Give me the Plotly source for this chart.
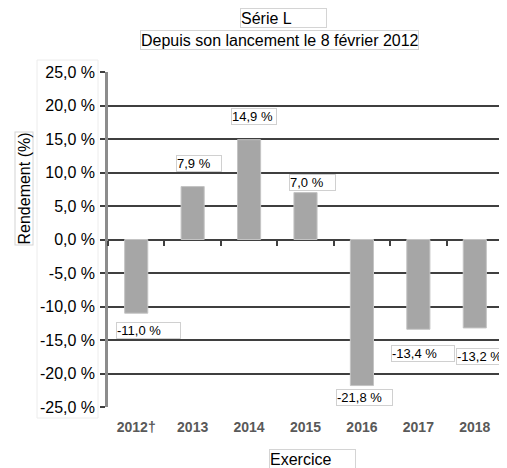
import plotly.graph_objects as go

categories = ["2012†", "2013", "2014", "2015", "2016", "2017", "2018"]
returns = [-11.0, 7.9, 14.9, 7.0, -21.8, -13.4, -13.2]
label_texts = ["-11,0 %", "7,9 %", "14,9 %", "7,0 %", "-21,8 %", "-13,4 %", "-13,2 %"]
ytick_vals = [25, 20, 15, 10, 5, 0, -5, -10, -15, -20, -25]
ytick_texts = ["25,0 %", "20,0 %", "15,0 %", "10,0 %", "5,0 %", "0,0 %",
               "-5,0 %", "-10,0 %", "-15,0 %", "-20,0 %", "-25,0 %"]

# label box styling (pixel offsets from bar end, box widths)
label_xshift = [12, 6, 5, 7, 3, 5, 6]
label_yshift = [-17, 23, 23, 10, -12, -24, -29]
label_width = [63, 44, 44, 45, 55, 62, 47]

FONT = "Liberation Sans, Arial, sans-serif"

# the page body adds an 8px offset; work in page pixels and convert
OFF = 8
W, H = 507 - OFF, 468 - OFF
plot_l, plot_r, plot_t, plot_b = 108, 503, 72, 407   # page pixels
ml, mr = plot_l - OFF, W - (plot_r - OFF)
mt, mb = plot_t - OFF, H - (plot_b - OFF)
pw, ph = plot_r - plot_l, plot_b - plot_t

def px2paper(xp, yp):
    return (xp - plot_l) / pw, 1 - (yp - plot_t) / ph

fig = go.Figure()
fig.add_trace(go.Bar(
    x=categories, y=returns, width=0.41,
    marker=dict(color="#a6a6a6", line=dict(color="#c4c4c4", width=1)),
    showlegend=False, hoverinfo="skip",
))
# helper trace for the boundary ticks on the zero line
fig.add_trace(go.Scatter(x=[-0.5, 6.5], y=[0, 0], xaxis="x2", mode="lines",
                         line=dict(color="rgba(0,0,0,0)"), showlegend=False,
                         hoverinfo="skip"))

annotations = []
for i, (v, t, xs, ys, w) in enumerate(zip(returns, label_texts,
                                          label_xshift, label_yshift, label_width)):
    annotations.append(dict(
        x=i, y=v, xref="x", yref="y", text=t, showarrow=False,
        xshift=xs, yshift=ys, width=w, height=15, align="left",
        font=dict(family=FONT, size=13, color="#000"),
        bordercolor="#d0d0d0", borderwidth=1, borderpad=0, bgcolor="white",
    ))

for text, cx, cy, w, angle in [
    ("Série L", 283.5, 17.5, 85, 0),
    ("Depuis son lancement le 8 février 2012", 279.5, 40.5, 277, 0),
    ("Exercice", 312.5, 459.5, 85, 0),
    ("Rendement (%)", 23.5, 189, None, -90),
]:
    px, py = px2paper(cx, cy)
    a = dict(text=text, xref="paper", yref="paper", x=px, y=py,
             xanchor="center", yanchor="middle", showarrow=False,
             textangle=angle, align="left" if not angle else "center",
             font=dict(family=FONT, size=16, color="#000"),
             bordercolor="#d4d4d4", borderwidth=1, borderpad=0,
             bgcolor="white")
    if w:
        a.update(width=w, height=18)
    annotations.append(a)

fig.update_layout(annotations=annotations)

# faint frame around y tick labels
fx0, fy0 = px2paper(37, 418)
fx1, fy1 = px2paper(98, 60)
fig.add_shape(type="rect", xref="paper", yref="paper",
              x0=fx0, x1=fx1, y0=fy0, y1=fy1,
              line=dict(color="#ececec", width=1), layer="below")

fig.update_layout(
    width=W, height=H,
    margin=dict(l=ml, r=mr, t=mt, b=mb, autoexpand=False),
    paper_bgcolor="white", plot_bgcolor="white",
    font=dict(family=FONT, size=16, color="#000"),
    xaxis=dict(
        type="category", range=[-0.5, 6.5], showgrid=False, showline=False,
        zeroline=False, ticks="outside", ticklen=7, tickcolor="rgba(0,0,0,0)",
        tickfont=dict(family=FONT, size=14, color="#595959", weight="bold"),
    ),
    xaxis2=dict(
        overlaying="x", anchor="free", position=0.5, range=[-0.5, 6.5],
        tick0=-0.5, dtick=1, ticks="outside", ticklen=5, tickwidth=1.5,
        tickcolor="#404040", showticklabels=False, showgrid=False,
        showline=False, zeroline=False,
    ),
    yaxis=dict(
        range=[-25, 25], tickvals=ytick_vals, ticktext=ytick_texts,
        showgrid=True, gridcolor="#3f3f3f", gridwidth=1.5,
        zeroline=True, zerolinecolor="#3f3f3f", zerolinewidth=1.5,
        showline=True, linecolor="#8c8c8c", linewidth=2.5,
        ticks="outside", ticklen=5, tickcolor="#3f3f3f", tickwidth=1.5,
        tickfont=dict(family=FONT, size=16, color="#000"),
        ticklabelstandoff=2,
    ),
)

fig.write_html("out.html")
